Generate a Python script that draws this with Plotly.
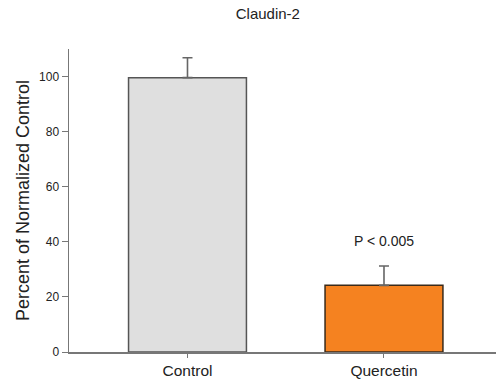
import plotly.graph_objects as go

categories = ["Control", "Quercetin"]
means = [99.6, 24.2]
errors = [7.2, 7.0]
fill_colors = ["#dfdfdf", "#f58220"]
line_colors = ["#555555", "#3a2a1a"]
y_ticks = [0, 20, 40, 60, 80, 100]
annotation_text = "P < 0.005"

fig = go.Figure()
fig.add_trace(go.Bar(
    x=categories, y=means, width=0.6,
    marker=dict(color=fill_colors, line=dict(color=line_colors, width=1.5)),
    error_y=dict(type="data", array=errors, symmetric=False, arrayminus=[0, 0],
                 color="#666666", thickness=1.6, width=5),
    hoverinfo="skip",
))
fig.add_annotation(x=categories[1], y=means[1] + errors[1] + 9, text=annotation_text,
                   showarrow=False, font=dict(size=14, color="#222222"))

fig.update_layout(
    width=496, height=387,
    margin=dict(l=69, r=0, t=49, b=35),
    paper_bgcolor="white", plot_bgcolor="white",
    font=dict(family="Liberation Sans, Arial, sans-serif", color="#222222"),
    title=dict(text="Claudin-2", x=0.54, xanchor="center", y=0.964, yanchor="middle",
               font=dict(size=15)),
    showlegend=False,
)
fig.update_xaxes(range=[-0.603, 1.57], showline=True, linecolor="#777777", linewidth=1.5,
                 ticks="outside", ticklen=4, tickcolor="#777777",
                 tickfont=dict(size=15.5), showgrid=False)
fig.update_yaxes(range=[0, 110], tickvals=y_ticks, showline=True, linecolor="#777777",
                 linewidth=1.5, ticks="outside", ticklen=6, tickcolor="#777777",
                 tickfont=dict(size=12), showgrid=False, zeroline=False,
                 title=dict(text="Percent of Normalized Control", font=dict(size=18), standoff=5))

fig.write_html("out.html", config={"displayModeBar": False, "staticPlot": True},
               post_script="document.body.style.margin='0';document.body.style.overflow='hidden';")
